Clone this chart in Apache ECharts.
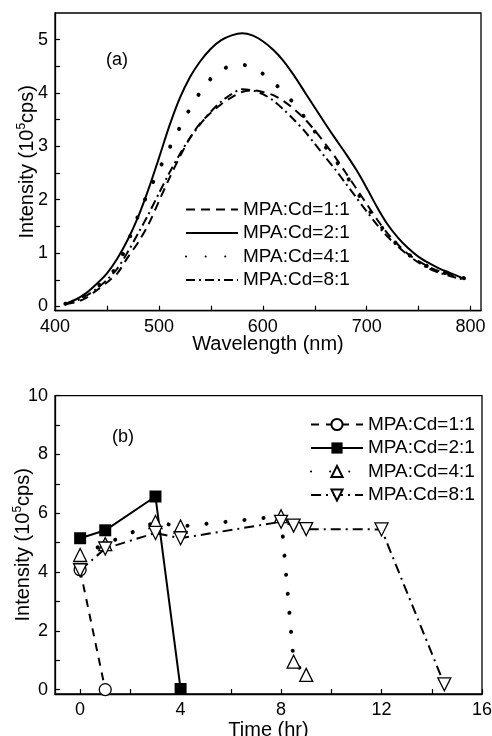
<!DOCTYPE html>
<html>
<head>
<meta charset="utf-8">
<script src="https://cdn.jsdelivr.net/npm/echarts@6/dist/echarts.min.js"></script>
<style>
  html, body { margin: 0; background: #fff; }
  #chart { width: 492px; height: 736px; }
</style>
</head>
<body>
<div id="chart"></div>
<script>
// (a) emission spectra
const wavelength = [410, 420, 430, 440, 450, 460, 470, 480, 490, 500, 510, 520, 530, 540, 550, 560, 570, 580, 590, 600,
  610, 620, 630, 640, 650, 660, 670, 680, 690, 700, 710, 720, 730, 740, 750, 760, 770, 780, 790, 795];
const spec11 = [0.04, 0.08, 0.16, 0.30, 0.45, 0.62, 0.92, 1.20, 1.54, 1.97, 2.40, 2.80, 3.16, 3.44, 3.63, 3.79, 3.92, 4.02, 4.05, 4.02,
  3.96, 3.85, 3.70, 3.52, 3.30, 3.05, 2.79, 2.50, 2.21, 1.92, 1.63, 1.37, 1.16, 0.98, 0.85, 0.74, 0.66, 0.60, 0.54, 0.52];
const spec21 = [0.05, 0.13, 0.25, 0.42, 0.62, 0.90, 1.25, 1.68, 2.20, 2.78, 3.38, 3.90, 4.30, 4.60, 4.83, 4.99, 5.08, 5.12, 5.08, 4.97,
  4.81, 4.60, 4.33, 4.03, 3.73, 3.43, 3.14, 2.86, 2.56, 2.22, 1.86, 1.54, 1.29, 1.09, 0.93, 0.81, 0.71, 0.63, 0.55, 0.52];
const spec41 = [0.05, 0.12, 0.22, 0.36, 0.53, 0.76, 1.20, 1.70, 2.15, 2.56, 2.96, 3.35, 3.71, 4.02, 4.27, 4.42, 4.52, 4.53, 4.47, 4.36,
  4.20, 4.02, 3.80, 3.55, 3.28, 3.00, 2.74, 2.46, 2.16, 1.87, 1.59, 1.36, 1.15, 0.98, 0.84, 0.74, 0.66, 0.60, 0.55, 0.52];
const spec81 = [0.05, 0.10, 0.20, 0.33, 0.50, 0.71, 1.02, 1.37, 1.73, 2.12, 2.50, 2.85, 3.16, 3.42, 3.65, 3.84, 3.98, 4.07, 4.05, 3.98,
  3.86, 3.69, 3.50, 3.29, 3.05, 2.80, 2.56, 2.30, 2.04, 1.78, 1.53, 1.31, 1.12, 0.96, 0.82, 0.71, 0.63, 0.57, 0.52, 0.50];

// (b) intensity vs time
const time11 = [0, 1];
const int11 = [4.08, 0];
const time21 = [0, 1, 3, 4];
const int21 = [5.15, 5.42, 6.57, 0.02];
const time41 = [0, 1, 3, 4, 8, 8.5, 9];
const int41 = [4.58, 4.95, 5.7, 5.55, 5.9, 0.95, 0.5];
const time81 = [0, 1, 3, 4, 8, 8.5, 9, 12, 14.5];
const int81 = [4.06, 4.8, 5.33, 5.15, 5.71, 5.58, 5.46, 5.45, 0.18];

const names = ["MPA:Cd=1:1", "MPA:Cd=2:1", "MPA:Cd=4:1", "MPA:Cd=8:1"];

const zip = (xs, ys) => xs.map((x, i) => [x, ys[i]]);
const FONT = "Liberation Sans, Arial, sans-serif";

const chart = echarts.init(document.getElementById("chart"));

const dashed = [9, 6];
const dotted = [0.1, 19.5];
const dashDot = [9, 4, 2, 4];

function axisCommon() {
  return {
    axisLine: { show: true, onZero: false, lineStyle: { color: "#000", width: 1.3 } },
    axisTick: { show: true, inside: true, length: 5, lineStyle: { color: "#000", width: 1.2 } },
    axisLabel: { color: "#000", fontSize: 18, fontFamily: FONT, margin: 7 },
    splitLine: { show: false },
    nameMoveOverlap: false,
    nameTextStyle: {
      color: "#000", fontSize: 20, fontFamily: FONT,
      rich: { sup: { fontSize: 12, fontFamily: FONT, color: "#000", padding: [0, 0, 10, 0] } }
    }
  };
}

function xy(extra) {
  const c = axisCommon();
  return Object.assign(c, extra, {
    axisTick: Object.assign(c.axisTick, extra.axisTick),
    axisLabel: Object.assign(c.axisLabel, extra.axisLabel)
  });
}

const topStyles = [
  { type: dashed, width: 2 },
  { type: "solid", width: 2 },
  { type: dotted, width: 4, cap: "round" },
  { type: dashDot, width: 2 }
];
const topData = [spec11, spec21, spec41, spec81];

const topSeries = topData.map((d, i) => ({
  name: "a" + names[i],
  type: "line",
  xAxisIndex: 0,
  yAxisIndex: 0,
  data: zip(wavelength, d),
  smooth: 0.3,
  symbol: "none",
  lineStyle: Object.assign({ color: "#000" }, topStyles[i]),
  itemStyle: { color: "#000" }
}));

const openMark = { color: "#fff", borderColor: "#000", borderWidth: 1.3 };
const bottomSeries = [
  {
    name: "b" + names[0], data: zip(time11, int11),
    lineStyle: { color: "#000", width: 2, type: [8, 7] },
    symbol: "circle", symbolSize: 12, itemStyle: openMark
  },
  {
    name: "b" + names[1], data: zip(time21, int21),
    lineStyle: { color: "#000", width: 2 },
    symbol: "rect", symbolSize: 12, itemStyle: { color: "#000" }
  },
  {
    name: "b" + names[2], data: zip(time41, int41),
    lineStyle: { color: "#000", width: 4, type: [0.1, 19], cap: "round" },
    symbol: "triangle", symbolSize: 13, itemStyle: openMark
  },
  {
    name: "b" + names[3], data: zip(time81, int81),
    lineStyle: { color: "#000", width: 2, type: [10, 5, 2, 5] },
    symbol: "triangle", symbolRotate: 180, symbolSize: 13, itemStyle: openMark
  }
].map(s => Object.assign({
  type: "line", xAxisIndex: 1, yAxisIndex: 1, showAllSymbol: true
}, s));

const legendCommon = {
  orient: "vertical",
  itemWidth: 52,
  itemHeight: 14,
  itemGap: 4.5,
  textStyle: { color: "#000", fontSize: 19, fontFamily: FONT },
  formatter: n => n.slice(1),
  selectedMode: false
};

const option = {
  animation: false,
  backgroundColor: "#fff",
  grid: [
    { left: 55, right: 11, top: 13, height: 297.7, outerBoundsMode: "none", show: true, borderColor: "#000", borderWidth: 1.3 },
    { left: 55, right: 10, top: 395.7, height: 298.3, outerBoundsMode: "none", show: true, borderColor: "#000", borderWidth: 1.3 }
  ],
  xAxis: [
    xy({
      type: "value", gridIndex: 0, min: 400, max: 810,
      name: "Wavelength (nm)", nameLocation: "middle", nameGap: 24,
      axisTick: { customValues: [400, 450, 500, 550, 600, 650, 700, 750, 800] },
      axisLabel: { customValues: [400, 500, 600, 700, 800] }
    }),
    xy({
      type: "value", gridIndex: 1, min: -1, max: 16,
      name: "Time (hr)", nameLocation: "middle", nameGap: 26,
      axisTick: { customValues: [0, 2, 4, 6, 8, 10, 12, 14, 16] },
      axisLabel: { customValues: [0, 4, 8, 12, 16] }
    })
  ],
  yAxis: [
    xy({
      type: "value", gridIndex: 0, min: -0.08, max: 5.5,
      name: "Intensity (10{sup|5}cps)", nameLocation: "middle", nameGap: 17,
      axisTick: { customValues: [0, 0.5, 1, 1.5, 2, 2.5, 3, 3.5, 4, 4.5, 5] },
      axisLabel: { customValues: [0, 1, 2, 3, 4, 5] }
    }),
    xy({
      type: "value", gridIndex: 1, min: -0.15, max: 10,
      name: "Intensity (10{sup|5}cps)", nameLocation: "middle", nameGap: 21,
      axisTick: { customValues: [0, 1, 2, 3, 4, 5, 6, 7, 8, 9, 10] },
      axisLabel: { customValues: [0, 2, 4, 6, 8, 10] }
    })
  ],
  legend: [
    Object.assign({
      left: 180, top: 195, data: names.map(n => "a" + n),
      itemStyle: { color: "rgba(0,0,0,0)", borderColor: "rgba(0,0,0,0)", borderWidth: 0 }
    }, legendCommon),
    Object.assign({ left: 305, top: 410, data: names.map(n => "b" + n) }, legendCommon)
  ],
  graphic: [
    { type: "text", left: 106, top: 51, style: { text: "(a)", fontSize: 18, fontFamily: FONT, fill: "#000" } },
    { type: "text", left: 112, top: 428, style: { text: "(b)", fontSize: 18, fontFamily: FONT, fill: "#000" } }
  ],
  series: topSeries.concat(bottomSeries)
};

chart.setOption(option);
</script>
</body>
</html>
